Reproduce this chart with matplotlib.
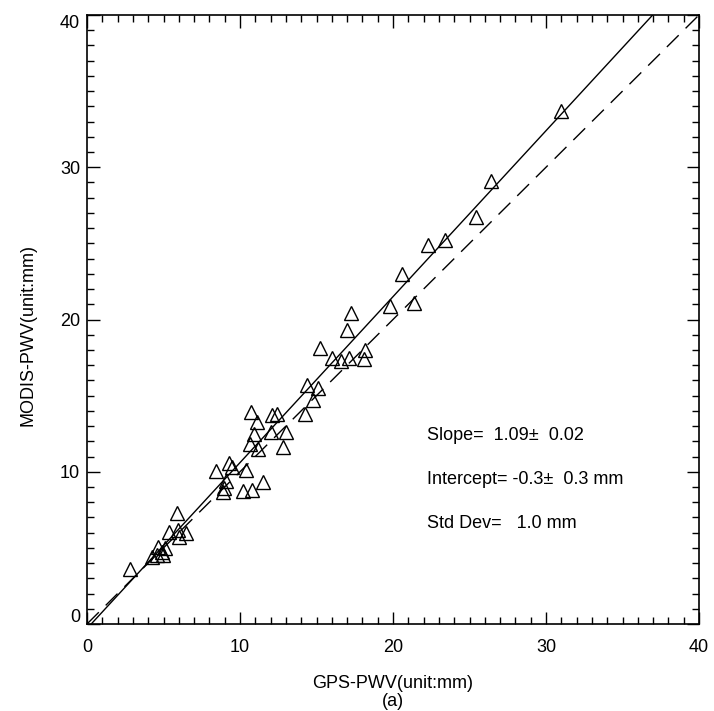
import numpy as np
import matplotlib.pyplot as plt
from matplotlib.ticker import MultipleLocator
import matplotlib.transforms as mtransforms

plt.rcParams['font.family'] = ['Liberation Sans', 'DejaVu Sans']

# GPS vs MODIS precipitable water vapour (mm)
gps_pwv = [31.0, 26.4, 25.4, 23.4, 22.3, 20.6, 21.4, 19.8, 17.25, 17.0,
           15.2, 16.0, 16.6, 17.1, 18.2, 18.1, 14.4, 15.1, 14.75, 14.25,
           13.0, 12.8, 10.7, 11.1, 12.1, 12.4, 10.9, 12.0, 10.65, 11.2,
           9.3, 9.5, 8.4, 10.4, 9.1, 8.95, 8.9, 10.2, 10.8, 11.5,
           5.86, 5.38, 5.97, 6.5, 6.0, 4.66, 4.88, 4.99, 4.55, 4.23,
           5.1, 2.8]
modis_pwv = [33.7, 29.1, 26.7, 25.2, 24.9, 23.0, 21.1, 20.9, 20.4, 19.3,
             18.1, 17.5, 17.3, 17.5, 18.0, 17.4, 15.7, 15.5, 14.7, 13.8,
             12.6, 11.6, 13.9, 13.3, 13.7, 13.8, 12.5, 12.6, 11.85, 11.5,
             10.6, 10.3, 10.05, 10.1, 9.4, 8.96, 8.7, 8.74, 8.8, 9.3,
             7.26, 6.05, 6.16, 5.95, 5.7, 5.07, 4.74, 4.52, 4.52, 4.41,
             4.98, 3.6]

slope = 1.09
intercept = -0.3
stats_lines = ["Slope=  1.09\u00b1  0.02",
               "Intercept= -0.3\u00b1  0.3 mm",
               "Std Dev=   1.0 mm"]

fig = plt.figure(figsize=(7.14, 7.11), dpi=100)
ax = fig.add_axes([87/714, 1 - 624/711, 612/714, 609/711])

xx = np.array([0, 40])
ax.plot(xx, slope*xx + intercept, color='black', lw=1.0)
ax.plot(xx, xx, color='black', lw=1.0, linestyle=(0, (12, 7)))
ax.plot(gps_pwv, modis_pwv, linestyle='none', marker='^', markersize=10.5,
        markerfacecolor='none', markeredgecolor='black', markeredgewidth=1.0)

ax.set_xlim(0, 40)
ax.set_ylim(0, 40)
ax.set_yticks([0, 10, 20, 30, 40])
ax.set_xticks([0, 10, 20, 30, 40])
ax.xaxis.set_minor_locator(MultipleLocator(1))
ax.yaxis.set_minor_locator(MultipleLocator(1))
ax.tick_params(which='both', direction='in', top=True, right=True,
               width=1.0, labelsize=13)
ax.tick_params(which='major', length=9)
ax.tick_params(which='minor', length=5)
ax.tick_params(axis='x', pad=11)
ax.tick_params(axis='y', pad=5)
for sp in ax.spines.values():
    sp.set_linewidth(1.2)

# IDL puts the end labels of the y axis inside the axis range
yticks = ax.yaxis.get_major_ticks()
up = mtransforms.ScaledTranslation(0, 9/100, fig.dpi_scale_trans)
down = mtransforms.ScaledTranslation(0, -7/100, fig.dpi_scale_trans)
yticks[0].label1.set_transform(yticks[0].label1.get_transform() + up)
yticks[-1].label1.set_transform(yticks[-1].label1.get_transform() + down)

for i, s in enumerate(stats_lines):
    ax.text(22.2, 12.4 - 2.9*i, s, fontsize=13, va='center', ha='left')

fig.text(393/714, 1 - 683/711, "GPS-PWV(unit:mm)", fontsize=13,
         ha='center', va='center')
fig.text(393/714, 1 - 702/711, "(a)", fontsize=13, ha='center', va='center')
fig.text(28/714, 1 - 335/711, "MODIS-PWV(unit:mm)", fontsize=13,
         ha='center', va='center', rotation=90)

fig.savefig('out.png', dpi=100)
